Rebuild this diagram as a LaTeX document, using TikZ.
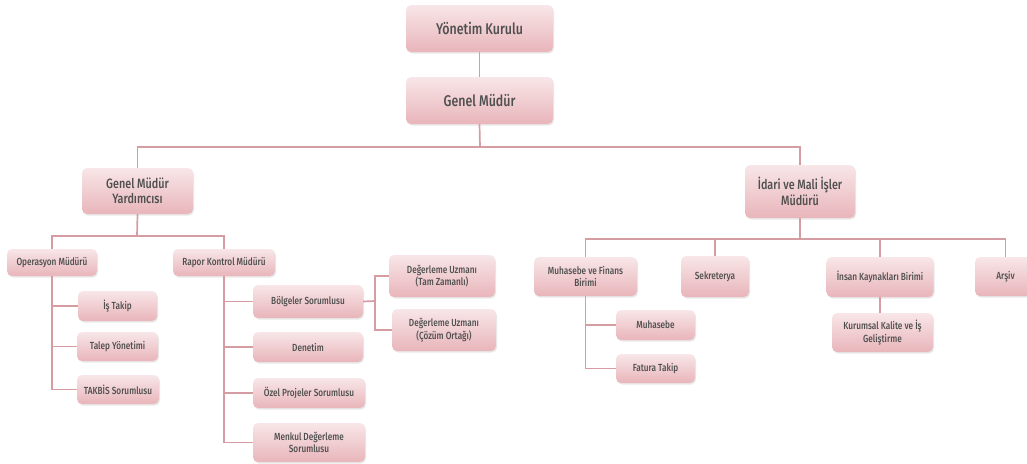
\documentclass[tikz,border=0pt]{standalone}
\usepackage{fontspec}
\setmainfont{Fira Sans}[FakeStretch=0.8, UprightFont=* Medium]
\usetikzlibrary{shadows}
\definecolor{boxtop}{HTML}{F8E6E8}
\definecolor{boxbot}{HTML}{E8B5BA}
\definecolor{conncol}{HTML}{D59CA1}
\definecolor{txt}{HTML}{4F4F4F}
\tikzset{
  box/.style={rounded corners=5pt, top color=boxtop, bottom color=boxbot, draw=none,
    drop shadow={opacity=0.18, shadow xshift=1pt, shadow yshift=-1.5pt},
    text=txt, align=center, inner sep=1pt},
  bigbox/.style={box, font=\fontsize{15.5}{17}\selectfont},
  midbox/.style={box, font=\fontsize{13.5}{15.5}\selectfont},
  smallbox/.style={box, font=\fontsize{10.3}{12.3}\selectfont},
  conn/.style={draw=conncol, line width=1.7pt}
}
\newcommand{\bx}[6]{\node[#1, minimum width=#4pt, minimum height=#5pt] (#2) at (#3) {#6};}
\begin{document}
\begin{tikzpicture}[x=1pt,y=-1pt]
\useasboundingbox (0,0) rectangle (1027,463);
\coordinate (h1) at (480,147);
\coordinate (h2) at (137,236);
\coordinate (h3) at (800,239);
\coordinate (j1) at (375,301);
\bx{bigbox}{yk}{479.5,28.5}{147}{47}{Yönetim Kurulu}
\bx{bigbox}{gm}{479.5,100.5}{147}{47}{Genel Müdür}
\bx{midbox}{gmy}{137.5,191}{111}{46}{Genel Müdür\\Yardımcısı}
\bx{midbox}{idm}{800,191.5}{110}{53}{İdari ve Mali İşler\\Müdürü}
\bx{smallbox}{op}{52,262.5}{90}{27}{Operasyon Müdürü}
\bx{smallbox}{rk}{224,262.5}{102}{27}{Rapor Kontrol Müdürü}
\bx{smallbox}{is}{117.5,306}{79}{30}{İş Takip}
\bx{smallbox}{tal}{117.5,346.5}{81}{29}{Talep Yönetimi}
\bx{smallbox}{tak}{118,389.5}{82}{29}{TAKBİS Sorumlusu}
\bx{smallbox}{bol}{308,301.5}{110}{33}{Bölgeler Sorumlusu}
\bx{smallbox}{den}{308,347}{110}{30}{Denetim}
\bx{smallbox}{ozl}{309,393}{112}{30}{Özel Projeler Sorumlusu}
\bx{smallbox}{mnk}{309,442.5}{112}{39}{Menkul Değerleme\\Sorumlusu}
\bx{smallbox}{du1}{442,276}{106}{42}{Değerleme Uzmanı\\(Tam Zamanlı)}
\bx{smallbox}{du2}{444,330}{104}{42}{Değerleme Uzmanı\\(Çözüm Ortağı)}
\bx{smallbox}{muf}{585.5,276.5}{103}{39}{Muhasebe ve Finans\\Birimi}
\bx{smallbox}{sek}{715,276.5}{68}{41}{Sekreterya}
\bx{smallbox}{ik}{880,277}{107}{40}{İnsan Kaynakları Birimi}
\bx{smallbox}{ars}{1005.5,276.5}{61}{39}{Arşiv}
\bx{smallbox}{kk}{882.5,332.5}{101}{39}{Kurumsal Kalite ve İş\\Geliştirme}
\bx{smallbox}{mh}{655.5,325}{79}{30}{Muhasebe}
\bx{smallbox}{ft}{655.5,368.5}{79}{29}{Fatura Takip}
\draw[conn] (yk.south) -- (gm.north);
\draw[conn] (gm.south) -- (h1);
\draw[conn] (gmy.north) |- (h1) -| (idm.north);
\draw[conn] (gmy.south) -- (h2);
\draw[conn] (op.north) |- (h2) -| (rk.north);
\draw[conn] (op.south) |- (is.west);
\draw[conn] (op.south) |- (tal.west);
\draw[conn] (op.south) |- (tak.west);
\draw[conn] (rk.south) |- (bol.west);
\draw[conn] (rk.south) |- (den.west);
\draw[conn] (rk.south) |- (ozl.west);
\draw[conn] (rk.south) |- (mnk.west);
\draw[conn] (bol.east) -- (j1);
\draw[conn] (j1) |- (du1.west);
\draw[conn] (j1) |- (du2.west);
\draw[conn] (idm.south) -- (h3);
\draw[conn] (muf.north) |- (h3) -| (ars.north);
\draw[conn] (sek.north) -- (sek.north |- h3);
\draw[conn] (ik.north) -- (ik.north |- h3);
\draw[conn] (ik.south) -- (ik.south |- kk.north);
\draw[conn] (muf.south) |- (mh.west);
\draw[conn] (muf.south) |- (ft.west);
\end{tikzpicture}
\end{document}
